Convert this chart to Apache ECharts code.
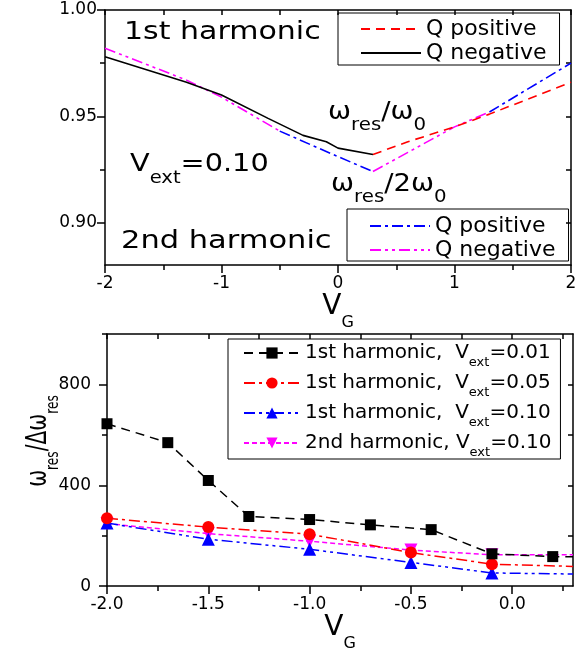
<!DOCTYPE html>
<html>
<head>
<meta charset="utf-8">
<script src="https://cdn.jsdelivr.net/npm/echarts@6/dist/echarts.min.js"></script>
<style>
html, body { margin: 0; padding: 0; background: #fff; }
#chart { width: 582px; height: 653px; }
</style>
</head>
<body>
<div id="chart"></div>
<script>
// ---- top panel: omega_res / omega_0 vs V_G ----
const h1NegX = [-2, -1.3, -1, -0.6, -0.3, -0.1, 0, 0.3];
const h1NegY = [0.978, 0.966, 0.960, 0.949, 0.941, 0.938, 0.935, 0.932];
const h1PosX = [0.3, 0.6, 1, 1.3, 2];
const h1PosY = [0.932, 0.938, 0.945, 0.951, 0.966];
// 2nd harmonic, drawn in pieces (colour alternates along the curve)
const h2NegAX = [-2, -1.3, -1, -0.5];
const h2NegAY = [0.982, 0.967, 0.959, 0.943];
const h2PosAX = [-0.5, 0, 0.3];
const h2PosAY = [0.943, 0.931, 0.924];
const h2NegBX = [0.3, 0.6, 1, 1.3];
const h2NegBY = [0.924, 0.933, 0.945, 0.952];
const h2PosBX = [1.3, 2];
const h2PosBY = [0.952, 0.975];

// ---- bottom panel: omega_res / delta omega_res vs V_G ----
const vgA = [-2.0, -1.7, -1.5, -1.3, -1.0, -0.7, -0.4, -0.1, 0.2];
const q001 = [644, 569, 419, 276, 264, 243, 224, 128, 117];
const vgB = [-2.0, -1.5, -1.0, -0.5, -0.1];
const q005 = [269, 234, 206, 133, 87];
const q010 = [250, 186, 146, 94, 52];
const q010h2 = [248, 208, 178, 143, 124];
// where each line leaves the plot at the right edge (no marker)
const edgeX = 0.3;
const edge001 = 116, edge005 = 78, edge010 = 48, edge010h2 = 124;

const topXTicks = [-2, -1, 0, 1, 2];
const topYLabels = [0.90, 0.95, 1.00];
const topYMinor = [0.925, 0.975];
const botXLabels = [-2.0, -1.5, -1.0, -0.5, 0.0];
const botXMinor = [-1.75, -1.25, -0.75, -0.25, 0.25];
const botYLabels = [0, 400, 800];
const botYMinor = [200, 600, 1000];

const FONT = 'DejaVu Sans';
const BLACK = '#000';

function pairs(xs, ys) { return xs.map((x, i) => [x, ys[i]]); }
function withEdge(xs, ys, ey) {
  const d = pairs(xs, ys);
  d.push({ value: [edgeX, ey], symbol: 'none' });
  return d;
}

const chart = echarts.init(document.getElementById('chart'), null, { renderer: 'canvas' });

const line = { lineStyle: { color: BLACK, width: 1.5 } };
const subRich = (main, sub, pad) => ({
  a: { fontSize: main, lineHeight: main + 2, fontFamily: FONT, color: BLACK, verticalAlign: 'top' },
  s: { fontSize: sub, lineHeight: sub, fontFamily: FONT, color: BLACK, verticalAlign: 'top', padding: [pad, 0, 0, 0] }
});

function mainX(grid, min, max, labels, fmt, name, gap) {
  return {
    type: 'value', gridIndex: grid, min: min, max: max, position: 'bottom',
    axisLine: { onZero: false, ...line },
    axisTick: { show: true, inside: false, length: 8, customValues: labels, ...line },
    axisLabel: { customValues: labels, formatter: fmt, fontSize: 17, fontFamily: FONT, color: BLACK, margin: 10 },
    splitLine: { show: false },
    name: '{a|V}{s|G}', nameLocation: 'middle', nameGap: gap,
    nameTextStyle: { rich: subRich(28, 16, 22) }
  };
}
function minorX(grid, min, max, ticks) {
  return {
    type: 'value', gridIndex: grid, min: min, max: max, position: 'bottom',
    axisLine: { show: false, onZero: false },
    axisTick: { show: true, inside: false, length: 5, customValues: ticks, ...line },
    axisLabel: { show: false }, splitLine: { show: false }
  };
}
function topX(grid, min, max, ticks) {
  return {
    type: 'value', gridIndex: grid, min: min, max: max, position: 'top',
    axisLine: { onZero: false, ...line },
    axisTick: { show: true, inside: true, length: 5, customValues: ticks, ...line },
    axisLabel: { show: false }, splitLine: { show: false }
  };
}
function mainY(grid, min, max, labels, fmt, margin) {
  return {
    type: 'value', gridIndex: grid, min: min, max: max, position: 'left',
    axisLine: { onZero: false, ...line },
    axisTick: { show: true, inside: false, length: 8, customValues: labels, ...line },
    axisLabel: { customValues: labels, formatter: fmt, fontSize: 17, fontFamily: FONT, color: BLACK, margin: margin },
    splitLine: { show: false }
  };
}
function minorY(grid, min, max, ticks) {
  return {
    type: 'value', gridIndex: grid, min: min, max: max, position: 'left',
    axisLine: { show: false, onZero: false },
    axisTick: { show: true, inside: false, length: 5, customValues: ticks, ...line },
    axisLabel: { show: false }, splitLine: { show: false }
  };
}
function rightY(grid, min, max, ticks) {
  return {
    type: 'value', gridIndex: grid, min: min, max: max, position: 'right',
    axisLine: { onZero: false, ...line },
    axisTick: { show: true, inside: true, length: 5, customValues: ticks, ...line },
    axisLabel: { show: false }, splitLine: { show: false }
  };
}

function topLine(name, xs, ys, color, type) {
  return {
    name: name, type: 'line', xAxisIndex: 0, yAxisIndex: 0,
    data: pairs(xs, ys), showSymbol: false, symbol: 'none',
    lineStyle: { color: color, width: 1.6, type: type }, itemStyle: { color: color }
  };
}
function botLine(name, data, color, type, symbol, size, rotate) {
  return {
    name: name, type: 'line', xAxisIndex: 3, yAxisIndex: 3,
    data: data, symbol: symbol, symbolSize: size, symbolRotate: rotate || 0,
    lineStyle: { color: color, width: 1.5, type: type }, itemStyle: { color: color }
  };
}

const topNames = { h1pos: 'Q positive', h1neg: 'Q negative', h2pos: 'Q positive', h2neg: 'Q negative' };
const botNames = {
  b1: '{a|1st harmonic,  V}{s|ext}{a|=0.01}',
  b2: '{a|1st harmonic,  V}{s|ext}{a|=0.05}',
  b3: '{a|1st harmonic,  V}{s|ext}{a|=0.10}',
  b4: '{a|2nd harmonic, V}{s|ext}{a|=0.10}'
};

const DASH = [9, 6];
const DASHDOT = [11, 4, 3, 4];
const DASHDOTDOT = [11, 4, 3, 4, 3, 4];
const SHORTDASH = [5, 3];

const topLegend = (names, left, top, padding) => ({
  data: names, orient: 'vertical', left: left, top: top,
  padding: padding, itemGap: 2, itemWidth: 60, itemHeight: 14,
  borderColor: BLACK, borderWidth: 1, borderRadius: 0, selectedMode: false,
  itemStyle: { opacity: 0 },
  formatter: n => topNames[n],
  textStyle: { fontSize: 22, lineHeight: 22, fontFamily: FONT, color: BLACK }
});

const option = {
  animation: false,
  backgroundColor: '#fff',
  grid: [
    { left: 105, right: 11, top: 10, height: 255 },
    { left: 107, right: 9, top: 334, height: 256 }
  ],
  xAxis: [
    mainX(0, -2, 2, topXTicks, v => String(v), 29),
    minorX(0, -2, 2, [-1.5, -0.5, 0.5, 1.5]),
    topX(0, -2, 2, [-2, -1.5, -1, -0.5, 0, 0.5, 1, 1.5, 2]),
    mainX(1, -2, 0.3, botXLabels, v => v.toFixed(1), 25),
    minorX(1, -2, 0.3, botXMinor),
    topX(1, -2, 0.3, botXLabels.concat(botXMinor))
  ],
  yAxis: [
    mainY(0, 0.88, 1.0, topYLabels, v => v.toFixed(2), 8),
    minorY(0, 0.88, 1.0, topYMinor),
    rightY(0, 0.88, 1.0, [0.9, 0.925, 0.95, 0.975]),
    mainY(1, 0, 1000, botYLabels, v => String(v), 16),
    minorY(1, 0, 1000, botYMinor),
    rightY(1, 0, 1000, [200, 400, 600, 800])
  ],
  legend: [
    topLegend(['h1pos', 'h1neg'], 338, 13, [5, 13, 1, 22]),
    topLegend(['h2pos', 'h2neg'], 347, 209, [6, 13, 0, 22]),
    {
      data: ['b1', 'b2', 'b3', 'b4'], orient: 'vertical', left: 228, top: 339,
      padding: [0, 9, 0, 15], itemGap: 0, itemWidth: 56, itemHeight: 14,
      borderColor: BLACK, borderWidth: 1, borderRadius: 0, selectedMode: false,
      formatter: n => botNames[n],
      textStyle: {
        rich: {
          a: { fontSize: 20, lineHeight: 28, fontFamily: FONT, color: BLACK, verticalAlign: 'middle' },
          s: { fontSize: 13, lineHeight: 13, fontFamily: FONT, color: BLACK, verticalAlign: 'top', padding: [17, 0, 0, 0] }
        }
      }
    }
  ],
  graphic: [
    { type: 'text', x: 124, y: 33, scaleX: 1.25,
      style: { text: '1st harmonic', fontSize: 24, fontFamily: FONT, fill: BLACK, align: 'left', verticalAlign: 'middle' } },
    { type: 'text', x: 121, y: 242, scaleX: 1.27,
      style: { text: '2nd harmonic', fontSize: 24, fontFamily: FONT, fill: BLACK, align: 'left', verticalAlign: 'middle' } },
    { type: 'text', x: 130, y: 152, scaleX: 1.15,
      style: { text: '{a|V}{s|ext}{a|=0.10}', align: 'left', verticalAlign: 'top', rich: subRich(25, 17, 18) } },
    { type: 'text', x: 328, y: 100, scaleX: 1.1,
      style: { text: '{a|ω}{s|res}{a|/ω}{s|0}', align: 'left', verticalAlign: 'top', rich: subRich(25, 18, 16) } },
    { type: 'text', x: 331, y: 172, scaleX: 1.1,
      style: { text: '{a|ω}{s|res}{a|/2ω}{s|0}', align: 'left', verticalAlign: 'top', rich: subRich(25, 18, 16) } },
    { type: 'text', x: 40, y: 441, rotation: Math.PI / 2, scaleX: 0.72,
      style: { text: '{a|ω}{s|res}{a|/Δω}{s|res}', align: 'center', verticalAlign: 'middle', rich: subRich(28, 17, 20) } }
  ],
  series: [
    topLine('h2neg', h2NegAX, h2NegAY, '#ff00ff', DASHDOTDOT),
    topLine('h2pos', h2PosAX, h2PosAY, '#0000ff', DASHDOT),
    topLine('h2neg', h2NegBX, h2NegBY, '#ff00ff', DASHDOTDOT),
    topLine('h2pos', h2PosBX, h2PosBY, '#0000ff', DASHDOT),
    topLine('h1pos', h1PosX, h1PosY, '#ff0000', DASH),
    topLine('h1neg', h1NegX, h1NegY, '#000000', 'solid'),
    botLine('b4', withEdge(vgB, q010h2, edge010h2), '#ff00ff', SHORTDASH, 'triangle', 13, 180),
    botLine('b3', withEdge(vgB, q010, edge010), '#0000ff', DASHDOTDOT, 'triangle', 13),
    botLine('b2', withEdge(vgB, q005, edge005), '#ff0000', DASHDOT, 'circle', 12),
    botLine('b1', withEdge(vgA, q001, edge001), '#000000', DASH, 'rect', 11)
  ]
};

chart.setOption(option);
</script>
</body>
</html>
